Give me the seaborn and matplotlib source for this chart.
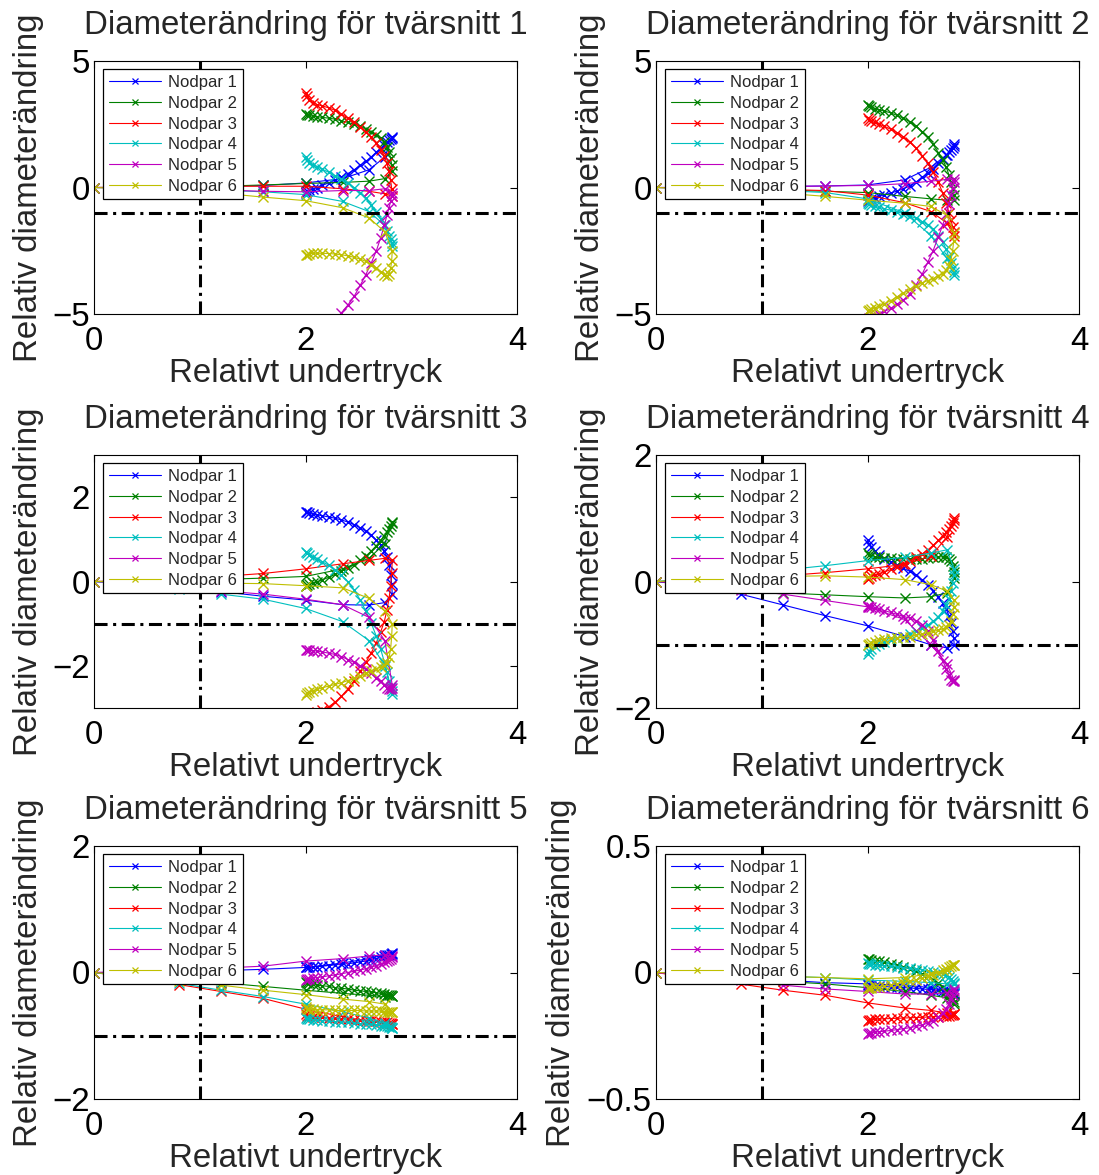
import matplotlib
matplotlib.use("Agg")
import matplotlib.pyplot as plt
from matplotlib.lines import Line2D
import numpy as np
import pandas as pd
import seaborn as sns

# ---------------- data ----------------
pairs = ["Nodpar 1", "Nodpar 2", "Nodpar 3", "Nodpar 4", "Nodpar 5", "Nodpar 6"]
colors = ["#0000ff", "#008000", "#ff0000", "#00bfbf", "#bf00bf", "#bfbf00"]
titles = ["Diameterändring för tvärsnitt 1", "Diameterändring för tvärsnitt 2",
          "Diameterändring för tvärsnitt 3", "Diameterändring för tvärsnitt 4",
          "Diameterändring för tvärsnitt 5", "Diameterändring för tvärsnitt 6"]
xlabel = "Relativt undertryck"
ylabel = "Relativ diameterändring"
xticks = [0, 2, 4]
ylims = [(-5, 5), (-5, 5), (-3, 3), (-2, 2), (-2, 2), (-0.5, 0.5)]
yticks = [[-5, 0, 5], [-5, 0, 5], [-2, 0, 2], [-2, 0, 2], [-2, 0, 2], [-0.5, 0, 0.5]]
yticklabels = [["\u22125", "0", "5"], ["\u22125", "0", "5"], ["\u22122", "0", "2"],
               ["\u22122", "0", "2"], ["\u22122", "0", "2"], ["\u22120.5", "0", "0.5"]]
ref_x = 1.0
ref_y = -1.0

# loading steps (sparse markers)
x_load = [0.0, 0.4, 0.8, 1.2, 1.6, 2.0, 2.35, 2.6, 2.75]
# cyclic part (dense markers), from 2.82 back to 2.0
x_dense = [2.82, 2.815, 2.805, 2.79, 2.77, 2.745, 2.71, 2.67, 2.62, 2.57, 2.52,
           2.46, 2.40, 2.34, 2.28, 2.22, 2.16, 2.11, 2.07, 2.035, 2.012, 2.0]

# ---- tvärsnitt 1
load_1 = [
    [0, 0.0, 0.02, 0.04, 0.08, 0.18, 0.35, 0.7, 1.2],
    [0, 0.0, 0.02, 0.05, 0.1, 0.16, 0.2, 0.25, 0.35],
    [0, 0.02, 0.04, 0.05, 0.05, 0.05, -0.05, -0.15, -0.25],
    [0, -0.02, -0.05, -0.1, -0.17, -0.28, -0.55, -0.95, -1.5],
    [0, -0.02, -0.05, -0.1, -0.15, -0.17, -0.12, -0.12, -0.05],
    [0, -0.05, -0.12, -0.22, -0.38, -0.52, -0.8, -1.2, -1.75],
]
dense_1 = [
    [2.0, 1.97, 1.93, 1.87, 1.79, 1.69, 1.55, 1.4, 1.2, 1.03, 0.88, 0.7, 0.55, 0.42, 0.3, 0.19, 0.08, 0.0, -0.06, -0.1, -0.15, -0.2],
    [0.65, 0.9, 1.15, 1.4, 1.6, 1.78, 1.95, 2.08, 2.2, 2.32, 2.42, 2.5, 2.57, 2.64, 2.7, 2.74, 2.77, 2.8, 2.82, 2.85, 2.87, 2.9],
    [-0.35, -0.05, 0.3, 0.65, 0.95, 1.25, 1.5, 1.75, 2.0, 2.2, 2.38, 2.58, 2.75, 2.9, 3.05, 3.15, 3.22, 3.28, 3.35, 3.45, 3.6, 3.75],
    [-2.3, -2.2, -2.05, -1.9, -1.72, -1.5, -1.25, -0.98, -0.7, -0.42, -0.2, 0.0, 0.17, 0.33, 0.47, 0.6, 0.72, 0.82, 0.9, 0.98, 1.08, 1.2],
    [-0.2, -0.35, -0.55, -0.8, -1.1, -1.5, -2.0, -2.5, -3.0, -3.45, -3.85, -4.3, -4.65, -4.95, -5.25, -5.55, -5.85, -6.1, -6.3, -6.45, -6.55, -6.6],
    [-2.5, -2.9, -3.2, -3.4, -3.5, -3.45, -3.35, -3.2, -3.05, -2.92, -2.83, -2.76, -2.7, -2.66, -2.63, -2.61, -2.6, -2.6, -2.6, -2.62, -2.65, -2.68],
]
# ---- tvärsnitt 2
load_2 = [
    [0, 0.0, 0.02, 0.04, 0.06, 0.1, 0.3, 0.8, 1.3],
    [0, -0.02, -0.05, -0.1, -0.15, -0.2, -0.35, -0.45, -0.5],
    [0, -0.02, -0.04, -0.08, -0.12, -0.3, -0.6, -0.95, -1.4],
    [0, -0.02, -0.06, -0.12, -0.2, -0.45, -1.0, -1.9, -2.8],
    [0, 0.0, 0.02, 0.04, 0.06, 0.08, 0.15, 0.25, 0.32],
    [0, -0.05, -0.12, -0.22, -0.35, -0.5, -0.62, -0.75, -1.1],
]
dense_2 = [
    [1.7, 1.65, 1.58, 1.5, 1.4, 1.28, 1.12, 0.95, 0.75, 0.56, 0.4, 0.22, 0.07, -0.05, -0.14, -0.22, -0.29, -0.35, -0.4, -0.45, -0.5, -0.55],
    [-0.5, -0.3, -0.05, 0.2, 0.5, 0.8, 1.1, 1.38, 1.7, 1.98, 2.2, 2.42, 2.6, 2.74, 2.85, 2.95, 3.02, 3.07, 3.12, 3.17, 3.22, 3.25],
    [-1.9, -1.75, -1.55, -1.3, -1.0, -0.6, -0.2, 0.2, 0.6, 0.95, 1.25, 1.55, 1.8, 2.0, 2.17, 2.3, 2.42, 2.5, 2.57, 2.62, 2.68, 2.75],
    [-3.45, -3.35, -3.2, -3.0, -2.75, -2.45, -2.15, -1.9, -1.65, -1.48, -1.35, -1.22, -1.12, -1.03, -0.96, -0.9, -0.84, -0.79, -0.75, -0.71, -0.67, -0.63],
    [0.35, 0.2, 0.0, -0.3, -0.65, -1.05, -1.5, -1.95, -2.5, -2.95, -3.4, -3.85, -4.2, -4.45, -4.62, -4.78, -4.9, -5.0, -5.07, -5.12, -5.16, -5.2],
    [-1.8, -2.1, -2.5, -2.85, -3.1, -3.28, -3.4, -3.5, -3.6, -3.68, -3.76, -3.88, -4.02, -4.17, -4.32, -4.47, -4.6, -4.7, -4.76, -4.8, -4.84, -4.87],
]
# ---- tvärsnitt 3
load_3 = [
    [0, -0.06, -0.14, -0.24, -0.35, -0.44, -0.55, -0.56, -0.5],
    [0, 0.01, 0.03, 0.05, 0.08, 0.12, 0.3, 0.55, 0.9],
    [0, 0.02, 0.06, 0.12, 0.19, 0.3, 0.42, 0.5, 0.55],
    [0, -0.07, -0.18, -0.3, -0.42, -0.64, -0.95, -1.4, -2.0],
    [0, -0.05, -0.13, -0.22, -0.3, -0.42, -0.55, -0.85, -1.4],
    [0, -0.01, -0.02, -0.04, -0.05, -0.1, -0.15, -0.4, -0.7],
]
dense_3 = [
    [-0.3, -0.05, 0.15, 0.4, 0.58, 0.72, 0.86, 0.98, 1.1, 1.2, 1.27, 1.35, 1.41, 1.46, 1.5, 1.53, 1.56, 1.58, 1.6, 1.62, 1.64, 1.66],
    [1.42, 1.38, 1.32, 1.25, 1.17, 1.08, 0.97, 0.85, 0.72, 0.6, 0.5, 0.4, 0.32, 0.24, 0.17, 0.1, 0.04, -0.01, -0.04, -0.07, -0.09, -0.1],
    [0.5, 0.2, -0.1, -0.4, -0.68, -0.95, -1.2, -1.45, -1.7, -1.92, -2.12, -2.35, -2.55, -2.72, -2.86, -2.97, -3.05, -3.1, -3.14, -3.17, -3.19, -3.2],
    [-2.66, -2.6, -2.5, -2.35, -2.15, -1.9, -1.6, -1.3, -0.98, -0.7, -0.45, -0.2, 0.0, 0.15, 0.28, 0.38, 0.47, 0.54, 0.59, 0.63, 0.67, 0.7],
    [-2.45, -2.52, -2.55, -2.55, -2.52, -2.45, -2.37, -2.28, -2.18, -2.08, -2.0, -1.92, -1.85, -1.78, -1.73, -1.7, -1.67, -1.65, -1.64, -1.63, -1.62, -1.62],
    [-1.0, -1.3, -1.6, -1.8, -1.93, -1.98, -2.03, -2.07, -2.12, -2.18, -2.24, -2.3, -2.35, -2.4, -2.44, -2.48, -2.52, -2.56, -2.59, -2.62, -2.65, -2.68],
]
# ---- tvärsnitt 4
load_4 = [
    [0, -0.08, -0.2, -0.37, -0.54, -0.7, -0.87, -1.0, -1.05],
    [0, -0.05, -0.12, -0.18, -0.21, -0.24, -0.26, -0.24, -0.18],
    [0, 0.02, 0.05, 0.09, 0.14, 0.2, 0.27, 0.4, 0.7],
    [0, 0.06, 0.12, 0.18, 0.25, 0.33, 0.38, 0.45, 0.5],
    [0, -0.06, -0.13, -0.2, -0.3, -0.4, -0.6, -1.0, -1.3],
    [0, 0.03, 0.06, 0.08, 0.09, 0.07, 0.03, -0.05, -0.15],
]
dense_4 = [
    [-1.0, -0.9, -0.78, -0.66, -0.54, -0.44, -0.34, -0.25, -0.15, -0.06, 0.02, 0.1, 0.16, 0.21, 0.26, 0.31, 0.36, 0.42, 0.48, 0.54, 0.6, 0.65],
    [0.05, 0.15, 0.25, 0.32, 0.36, 0.38, 0.39, 0.39, 0.38, 0.37, 0.36, 0.36, 0.36, 0.36, 0.36, 0.37, 0.37, 0.38, 0.39, 0.4, 0.42, 0.45],
    [1.0, 0.97, 0.93, 0.88, 0.83, 0.78, 0.72, 0.65, 0.57, 0.5, 0.44, 0.38, 0.32, 0.27, 0.23, 0.19, 0.15, 0.12, 0.1, 0.08, 0.06, 0.04],
    [0.2, 0.1, -0.02, -0.15, -0.27, -0.37, -0.47, -0.56, -0.63, -0.69, -0.74, -0.79, -0.83, -0.87, -0.9, -0.93, -0.96, -0.99, -1.02, -1.06, -1.1, -1.15],
    [-1.56, -1.58, -1.58, -1.55, -1.48, -1.38, -1.25, -1.1, -0.92, -0.78, -0.68, -0.62, -0.58, -0.55, -0.52, -0.49, -0.46, -0.44, -0.42, -0.41, -0.4, -0.39],
    [-0.3, -0.4, -0.52, -0.62, -0.68, -0.72, -0.75, -0.77, -0.79, -0.81, -0.83, -0.85, -0.87, -0.88, -0.89, -0.9, -0.91, -0.93, -0.95, -0.97, -0.99, -1.0],
]
# ---- tvärsnitt 5
load_5 = [
    [0, 0.0, 0.01, 0.03, 0.05, 0.08, 0.15, 0.22, 0.28],
    [0, -0.05, -0.1, -0.16, -0.22, -0.28, -0.33, -0.36, -0.38],
    [0, -0.09, -0.19, -0.3, -0.41, -0.58, -0.7, -0.77, -0.8],
    [0, -0.08, -0.17, -0.28, -0.38, -0.5, -0.62, -0.72, -0.8],
    [0, 0.02, 0.04, 0.07, 0.1, 0.18, 0.22, 0.26, 0.28],
    [0, -0.06, -0.13, -0.2, -0.28, -0.35, -0.42, -0.46, -0.5],
]
dense_5 = [
    [0.31, 0.3, 0.29, 0.28, 0.27, 0.26, 0.24, 0.22, 0.2, 0.18, 0.17, 0.15, 0.14, 0.13, 0.12, 0.11, 0.1, 0.09, 0.09, 0.08, 0.08, 0.08],
    [-0.37, -0.37, -0.36, -0.36, -0.35, -0.34, -0.33, -0.32, -0.31, -0.3, -0.29, -0.28, -0.26, -0.25, -0.24, -0.22, -0.21, -0.2, -0.18, -0.17, -0.16, -0.15],
    [-0.81, -0.81, -0.8, -0.8, -0.79, -0.79, -0.78, -0.77, -0.77, -0.76, -0.75, -0.75, -0.74, -0.73, -0.72, -0.72, -0.71, -0.7, -0.7, -0.69, -0.68, -0.66],
    [-0.87, -0.87, -0.86, -0.86, -0.85, -0.85, -0.84, -0.83, -0.82, -0.82, -0.81, -0.8, -0.79, -0.78, -0.78, -0.77, -0.76, -0.75, -0.75, -0.74, -0.73, -0.72],
    [0.26, 0.24, 0.22, 0.2, 0.18, 0.16, 0.13, 0.11, 0.08, 0.06, 0.04, 0.02, 0.0, -0.02, -0.04, -0.05, -0.07, -0.08, -0.09, -0.1, -0.11, -0.12],
    [-0.62, -0.62, -0.62, -0.62, -0.62, -0.62, -0.61, -0.61, -0.61, -0.61, -0.6, -0.6, -0.6, -0.6, -0.6, -0.59, -0.59, -0.59, -0.58, -0.58, -0.57, -0.55],
]
# ---- tvärsnitt 6
load_6 = [
    [0, -0.01, -0.02, -0.03, -0.04, -0.045, -0.05, -0.06, -0.07],
    [0, -0.01, -0.02, -0.035, -0.045, -0.06, -0.075, -0.09, -0.1],
    [0, -0.025, -0.046, -0.07, -0.09, -0.12, -0.14, -0.15, -0.16],
    [0, -0.005, -0.01, -0.015, -0.02, -0.03, -0.035, -0.04, -0.045],
    [0, -0.015, -0.03, -0.05, -0.065, -0.075, -0.085, -0.085, -0.08],
    [0, -0.005, -0.01, -0.015, -0.02, -0.025, -0.02, -0.005, 0.01],
]
dense_6 = [
    [-0.085, -0.083, -0.081, -0.079, -0.077, -0.075, -0.073, -0.071, -0.069, -0.067, -0.065, -0.063, -0.061, -0.06, -0.058, -0.057, -0.056, -0.055, -0.054, -0.053, -0.052, -0.05],
    [-0.125, -0.115, -0.105, -0.095, -0.085, -0.072, -0.058, -0.043, -0.028, -0.015, -0.005, 0.005, 0.014, 0.022, 0.029, 0.035, 0.04, 0.044, 0.047, 0.05, 0.052, 0.055],
    [-0.165, -0.166, -0.167, -0.168, -0.17, -0.171, -0.172, -0.174, -0.175, -0.176, -0.177, -0.178, -0.179, -0.18, -0.181, -0.182, -0.183, -0.184, -0.185, -0.186, -0.188, -0.19],
    [-0.046, -0.04, -0.032, -0.024, -0.017, -0.011, -0.005, -0.001, 0.003, 0.007, 0.01, 0.013, 0.016, 0.019, 0.021, 0.024, 0.026, 0.028, 0.03, 0.032, 0.034, 0.036],
    [-0.066, -0.075, -0.088, -0.105, -0.125, -0.145, -0.162, -0.177, -0.19, -0.2, -0.207, -0.213, -0.218, -0.222, -0.226, -0.229, -0.232, -0.234, -0.236, -0.238, -0.24, -0.242],
    [0.03, 0.03, 0.028, 0.025, 0.02, 0.015, 0.008, 0.0, -0.008, -0.015, -0.022, -0.029, -0.035, -0.04, -0.045, -0.049, -0.053, -0.056, -0.058, -0.06, -0.061, -0.062],
]

loads = [load_1, load_2, load_3, load_4, load_5, load_6]
denses = [dense_1, dense_2, dense_3, dense_4, dense_5, dense_6]

# ---------------- style ----------------
sns.set_style("white")
plt.rcParams["font.family"] = ["Liberation Sans", "DejaVu Sans"]
plt.rcParams["lines.scale_dashes"] = False
plt.rcParams["axes.unicode_minus"] = True

FS = 23.8
fig = plt.figure(figsize=(10.99, 11.75), dpi=100)
W, H = 1099.0, 1175.0
col_px = [(94, 517), (656, 1079)]
row_px = [(61, 314), (455, 708), (846, 1099)]

leg_handles = [Line2D([], [], color=col, lw=0.8, marker="x", ms=5, mew=0.9,
                      mec=col) for col in colors]

for k in range(6):
    r, c = divmod(k, 2)
    (l, rr), (t, b) = col_px[c], row_px[r]
    ax = fig.add_axes([l / W, 1 - b / H, (rr - l) / W, (b - t) / H])

    rows = []
    for i, name in enumerate(pairs):
        xs = x_load + x_dense
        ys = loads[k][i] + denses[k][i]
        for j, (xv, yv) in enumerate(zip(xs, ys)):
            rows.append({"x": xv, "y": yv, "Nodpar": name, "step": j})
    df = pd.DataFrame(rows)

    sns.lineplot(data=df, x="x", y="y", hue="Nodpar", hue_order=pairs,
                 palette=colors, sort=False, estimator=None, units="Nodpar",
                 marker="x", markersize=7, linewidth=0.8, legend=False, ax=ax)
    for line, col in zip(ax.lines[:6], colors):
        line.set_markeredgecolor(col)
        line.set_markerfacecolor(col)
        line.set_markeredgewidth(1.0)
        line.set_clip_on(True)

    dd = (0, (9.4, 4.0, 2.2, 4.0))
    ax.axvline(ref_x, color="black", lw=2.2, ls=dd, zorder=5)
    ax.axhline(ref_y, color="black", lw=2.2, ls=dd, zorder=5)

    ax.set_xlim(0, 4)
    ax.set_ylim(*ylims[k])
    ax.set_xticks(xticks)
    ax.set_xticklabels([str(v) for v in xticks])
    ax.set_yticks(yticks[k])
    ax.set_yticklabels(yticklabels[k])
    ax.tick_params(direction="in", length=5, width=0.8, top=True, right=True,
                   labelsize=FS, colors="black")
    ax.tick_params(axis="x", pad=8.5)
    ax.tick_params(axis="y", pad=3)
    for sp in ax.spines.values():
        sp.set_color("black")
        sp.set_linewidth(0.8)
    ax.set_title(titles[k], fontsize=FS, pad=19.5)
    ax.set_xlabel(xlabel, fontsize=FS, labelpad=1)
    ax.set_ylabel(ylabel, fontsize=FS, labelpad=7 if k == 5 else 6)

    leg = ax.legend(leg_handles, pairs, loc="upper left", bbox_to_anchor=(0.022, 0.967),
                    borderaxespad=0, fontsize=12, frameon=True, fancybox=False,
                    edgecolor="black", framealpha=1, handlelength=3.1,
                    handletextpad=0.45, labelspacing=0.34, borderpad=0.35, numpoints=1)
    leg.get_frame().set_linewidth(0.9)
    leg.set_zorder(10)

fig.savefig("out.png", dpi=100)
